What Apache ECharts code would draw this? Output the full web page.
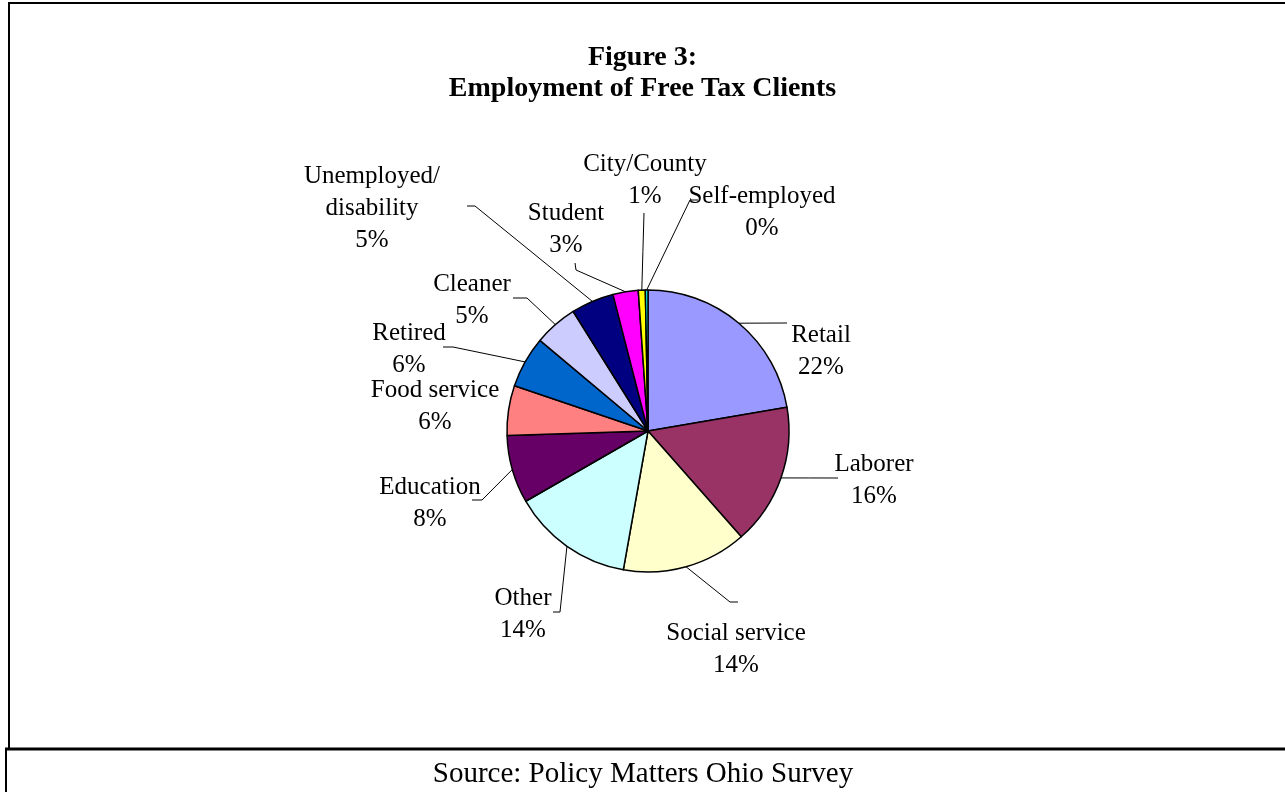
<!DOCTYPE html>
<html>
<head>
<meta charset="utf-8">
<script src="https://cdn.jsdelivr.net/npm/echarts@6/dist/echarts.min.js"></script>
<style>
  html, body { margin: 0; padding: 0; background: #fff; }
  #chart { width: 1285px; height: 792px; }
</style>
</head>
<body>
<div id="chart"></div>
<script>
// Occupation of survey respondents (share of clients, %)
const categories = [
  'Retail', 'Laborer', 'Social service', 'Other', 'Education', 'Food service',
  'Retired', 'Cleaner', 'Unemployed/\ndisability', 'Student', 'City/County', 'Self-employed'
];
const shares = [22.3, 16.2, 14.3, 13.9, 7.8, 5.7, 5.9, 5.0, 4.9, 2.9, 0.8, 0.3];
const sliceColors = [
  '#9999FF', '#993366', '#FFFFCC', '#CCFFFF', '#660066', '#FF8080',
  '#0066CC', '#CCCCFF', '#000080', '#FF00FF', '#FFFF00', '#00FFFF'
];

const titleLines = ['Figure 3:', 'Employment of Free Tax Clients'];
const sourceNote = 'Source: Policy Matters Ohio Survey';

// Pie geometry
const PIE_CX = 648, PIE_CY = 431, PIE_R = 141;

// Label placement, as offsets from the pie centre: text block centre and
// the bend/end points of each leader line (null = no leader line).
const labelPlacement = [
  { at: [173, -80],  line: [[139, -108]] },
  { at: [226, 49],   line: [[190, 47]] },
  { at: [88, 218],   line: [[82, 171], [90, 171]] },
  { at: [-125, 183], line: [[-88, 181], [-95, 181]] },
  { at: [-218, 72],  line: [[-166, 69], [-176, 69]] },
  { at: [-213, -25], line: null },
  { at: [-239, -82], line: [[-195, -84], [-205, -84]] },
  { at: [-176, -131], line: [[-121, -133], [-135, -133]] },
  { at: [-276, -223], line: [[-173, -225], [-181, -225]] },
  { at: [-82, -202], line: [[-72, -161], [-73, -168]] },
  { at: [-3, -251],  line: [[-4, -218]] },
  { at: [114, -219], line: [[42, -231], [50, -231]] }
];

const FONT = '"Liberation Serif", "Times New Roman", serif';

const pieData = categories.map((name, i) => ({
  name: name,
  value: shares[i],
  itemStyle: { color: sliceColors[i] },
  labelLine: { show: labelPlacement[i].line !== null }
}));

const chart = echarts.init(document.getElementById('chart'), null, { renderer: 'canvas' });

chart.setOption({
  backgroundColor: '#fff',
  animation: false,
  title: {
    text: titleLines.join('\n'),
    left: 'center',
    top: 37,
    padding: [5, 5, 5, 19],
    textStyle: {
      fontFamily: FONT,
      fontWeight: 'bold',
      fontSize: 28,
      lineHeight: 31,
      color: '#000'
    }
  },
  graphic: [
    // outer frame of the figure area
    { type: 'line', shape: { x1: 8, y1: 3, x2: 1285, y2: 3 }, style: { stroke: '#000', lineWidth: 2 } },
    { type: 'line', shape: { x1: 9, y1: 2, x2: 9, y2: 749 }, style: { stroke: '#000', lineWidth: 2 } },
    // separator above the source note
    { type: 'line', shape: { x1: 5, y1: 749, x2: 1285, y2: 749 }, style: { stroke: '#000', lineWidth: 3 } },
    { type: 'line', shape: { x1: 6, y1: 748, x2: 6, y2: 792 }, style: { stroke: '#000', lineWidth: 2 } },
    {
      type: 'text',
      x: 643, y: 774,
      style: {
        text: sourceNote,
        font: '29px ' + FONT,
        fill: '#000',
        align: 'center',
        verticalAlign: 'middle'
      }
    }
  ],
  series: [{
    type: 'pie',
    center: [PIE_CX, PIE_CY],
    radius: PIE_R,
    startAngle: 90,
    clockwise: true,
    percentPrecision: 0,
    avoidLabelOverlap: false,
    data: pieData,
    itemStyle: { borderColor: '#000', borderWidth: 1.5 },
    emphasis: { disabled: true },
    label: {
      show: true,
      position: 'outside',
      formatter: '{b}\n{d}%',
      fontFamily: FONT,
      fontSize: 25,
      lineHeight: 32,
      color: '#000',
      align: 'center'
    },
    labelLine: {
      show: true,
      length: 10,
      length2: 10,
      lineStyle: { color: '#000', width: 1 }
    },
    labelLayout: function (params) {
      const p = labelPlacement[params.dataIndex];
      const out = {
        x: PIE_CX + p.at[0],
        y: PIE_CY + p.at[1],
        align: 'center',
        verticalAlign: 'middle'
      };
      if (p.line && params.labelLinePoints) {
        const start = params.labelLinePoints[0];
        const pts = p.line.map(q => [PIE_CX + q[0], PIE_CY + q[1]]);
        if (pts.length === 1) {
          pts.unshift([(start[0] + pts[0][0]) / 2, (start[1] + pts[0][1]) / 2]);
        }
        out.labelLinePoints = [start].concat(pts);
      }
      return out;
    }
  }]
});
</script>
</body>
</html>
